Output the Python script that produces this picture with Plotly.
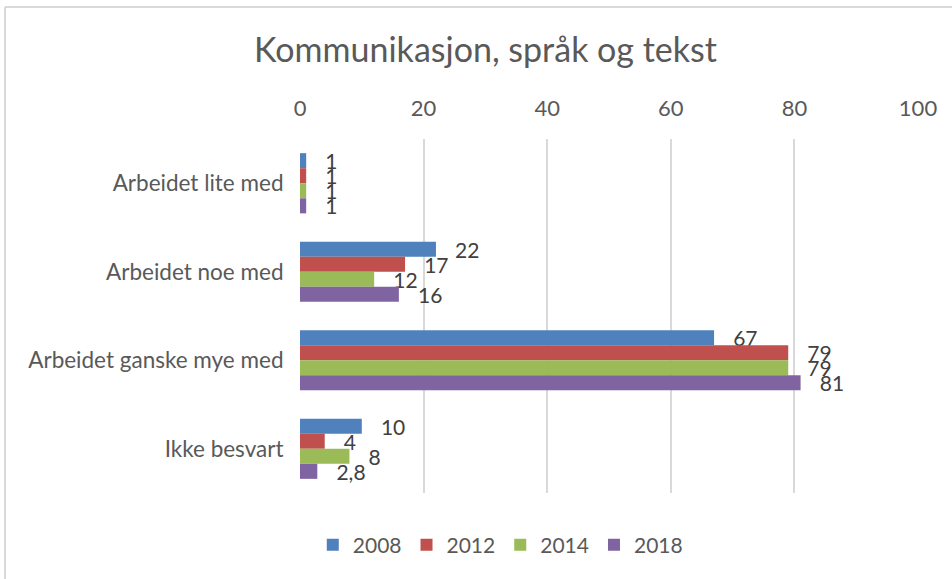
import plotly.graph_objects as go

categories = ["Arbeidet lite med", "Arbeidet noe med", "Arbeidet ganske mye med", "Ikke besvart"]
series_names = ["2008", "2012", "2014", "2018"]
v2008 = [1, 22, 67, 10]
v2012 = [1, 17, 79, 4]
v2014 = [1, 12, 79, 8]
v2018 = [1, 16, 81, 2.8]
labels2008 = ["1", "22", "67", "10"]
labels2012 = ["1", "17", "79", "4"]
labels2014 = ["1", "12", "79", "8"]
labels2018 = ["1", "16", "81", "2,8"]
colors = ["#4F81BD", "#C0504D", "#9BBB59", "#8064A2"]
x_ticks = [0, 20, 40, 60, 80, 100]

FONT = "Lato, Carlito, 'Open Sans', sans-serif"
TXT = "#595959"

fig = go.Figure()
for name, vals, labs, col in zip(series_names, [v2008, v2012, v2014, v2018],
                                 [labels2008, labels2012, labels2014, labels2018], colors):
    fig.add_trace(go.Bar(
        y=categories, x=vals, name=name, orientation="h",
        marker=dict(color=col, line=dict(width=0)),
        text=labs, texttemplate="   %{text}", textposition="outside",
        cliponaxis=False, constraintext="none",
        textfont=dict(family=FONT, size=21, color="#404040"),
    ))

W, H = 952, 579
L, R, T, B = 300, 34, 139, 86
pw, ph = W - L - R, H - T - B

def px_x(px):
    return (px - L) / pw

def px_y(py):
    return (H - B - py) / ph

fig.update_layout(
    width=W, height=H,
    margin=dict(l=L, r=R, t=T, b=B),
    paper_bgcolor="white", plot_bgcolor="white",
    barmode="group", bargap=0.32, bargroupgap=0,
    font=dict(family=FONT, color=TXT, size=21),
    title=dict(text="Kommunikasjon, språk og tekst", x=0.51, xref="container",
               y=1 - 50 / H, yref="container", xanchor="center", yanchor="middle",
               font=dict(size=34, color=TXT, family=FONT)),
    xaxis=dict(side="top", range=[0, 100], tickvals=x_ticks, showgrid=True,
               gridcolor="#D9D9D9", gridwidth=2, zeroline=False, showline=False,
               ticks="outside", ticklen=13, tickcolor="rgba(0,0,0,0)",
               tickfont=dict(size=22, color=TXT)),
    yaxis=dict(autorange="reversed", showgrid=False, zeroline=False, showline=False,
               ticks="outside", ticklen=11, tickcolor="rgba(0,0,0,0)",
               tickfont=dict(size=22.5, color=TXT)),
    legend=dict(orientation="h", xref="container", yref="container",
                x=0.5255, y=1 - 545 / H, xanchor="center", yanchor="middle",
                font=dict(size=21, color=TXT), itemwidth=30, traceorder="normal"),
    showlegend=True,
)

fig.add_shape(type="line", xref="paper", yref="paper",
              x0=px_x(5), x1=px_x(952), y0=px_y(7), y1=px_y(7),
              line=dict(color="#D9D9D9", width=2))
fig.add_shape(type="line", xref="paper", yref="paper",
              x0=px_x(5), x1=px_x(5), y0=px_y(7), y1=px_y(579),
              line=dict(color="#D9D9D9", width=2))

fig.write_html("out.html", config={"displayModeBar": False},
               post_script="document.body.style.margin='0';document.body.style.overflow='hidden';")
